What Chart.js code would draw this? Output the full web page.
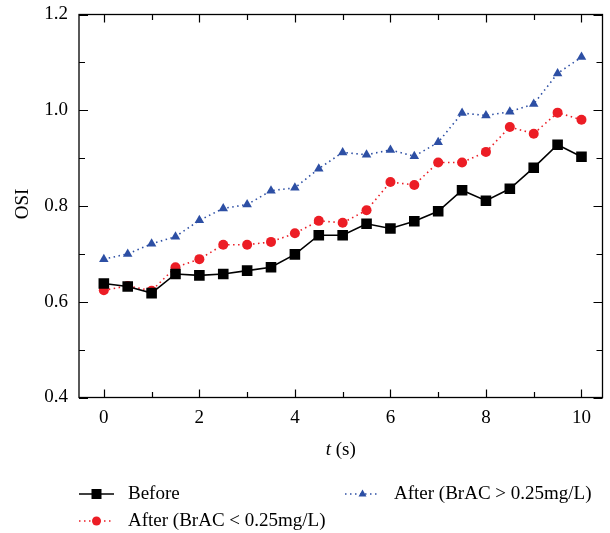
<!DOCTYPE html>
<html>
<head>
<meta charset="utf-8">
<script src="https://cdn.jsdelivr.net/npm/chart.js@4.4.0/dist/chart.umd.min.js"></script>
<style>
  html, body { margin: 0; padding: 0; background: #fff; }
  #wrap { width: 610px; height: 533px; }
</style>
</head>
<body>
<div id="wrap"><canvas id="osiChart" width="610" height="533"></canvas></div>
<script>
// time in seconds
var times = [0, 0.5, 1, 1.5, 2, 2.5, 3, 3.5, 4, 4.5, 5, 5.5, 6, 6.5, 7, 7.5, 8, 8.5, 9, 9.5, 10];
var before = [0.638, 0.632, 0.618, 0.658, 0.655, 0.658, 0.665, 0.672, 0.699, 0.739, 0.739,
              0.763, 0.753, 0.768, 0.789, 0.833, 0.811, 0.836, 0.880, 0.928, 0.903];
var afterLow = [0.624, 0.633, 0.623, 0.672, 0.689, 0.719, 0.719, 0.725, 0.743, 0.769, 0.765,
                0.791, 0.850, 0.844, 0.891, 0.891, 0.913, 0.965, 0.951, 0.995, 0.980];
var afterHigh = [0.689, 0.700, 0.721, 0.736, 0.770, 0.795, 0.803, 0.832, 0.838, 0.878, 0.912,
                 0.907, 0.917, 0.904, 0.933, 0.994, 0.989, 0.997, 1.013, 1.077, 1.111];
var seriesNames = ['Before', 'After (BrAC < 0.25mg/L)', 'After (BrAC > 0.25mg/L)'];
var xTickLabels = [0, 2, 4, 6, 8, 10];
var yTickLabels = [0.4, 0.6, 0.8, 1.0, 1.2];

var FONT = "'Liberation Serif', 'DejaVu Serif', serif";
var RED = '#ec1d25';
var BLUE = '#2d4fa4';

function pts(ys) {
  return ys.map(function (y, i) { return { x: times[i], y: y }; });
}

// frame, inward ticks, axis titles and the legend
var decor = {
  id: 'decor',
  afterDraw: function (chart) {
    var ctx = chart.ctx;
    var a = chart.chartArea;
    var xs = chart.scales.x, ys = chart.scales.y;
    ctx.save();
    ctx.strokeStyle = '#000';
    ctx.lineWidth = 1.3;
    ctx.strokeRect(a.left, a.top, a.right - a.left, a.bottom - a.top);

    ctx.beginPath();
    for (var t = 0; t <= 10; t++) {
      var px = Math.round(xs.getPixelForValue(t)) + 0.5;
      var len = (t % 2 === 0) ? 8 : 5.5;
      ctx.moveTo(px, a.bottom); ctx.lineTo(px, a.bottom - len);
      ctx.moveTo(px, a.top); ctx.lineTo(px, a.top + len);
    }
    for (var k = 4; k <= 12; k++) {
      var py = Math.round(ys.getPixelForValue(k / 10)) + 0.5;
      var l2 = (k % 2 === 0) ? 9 : 6;
      ctx.moveTo(a.left, py); ctx.lineTo(a.left + l2, py);
      ctx.moveTo(a.right, py); ctx.lineTo(a.right - l2, py);
    }
    ctx.lineWidth = 1.2;
    ctx.stroke();

    // x title: italic t + (s)
    ctx.fillStyle = '#000';
    ctx.textBaseline = 'middle';
    ctx.font = 'italic 19px ' + FONT;
    var w1 = ctx.measureText('t').width;
    ctx.font = '19px ' + FONT;
    var w2 = ctx.measureText(' (s)').width;
    var cx = (a.left + a.right) / 2 - (w1 + w2) / 2;
    ctx.font = 'italic 19px ' + FONT;
    ctx.fillText('t', cx, 450);
    ctx.font = '19px ' + FONT;
    ctx.fillText(' (s)', cx + w1, 450);

    // y title
    ctx.save();
    ctx.translate(23, 204);
    ctx.rotate(-Math.PI / 2);
    ctx.textAlign = 'center';
    ctx.fillText('OSI', 0, 0);
    ctx.restore();

    // legend
    var ds = chart.data.datasets;
    var items = [
      { d: ds[0], x: 79, y: 494 },
      { d: ds[1], x: 79, y: 521 },
      { d: ds[2], x: 345, y: 494 }
    ];
    items.forEach(function (it) {
      var d = it.d;
      ctx.save();
      ctx.strokeStyle = d.borderColor;
      ctx.lineWidth = d.borderWidth;
      ctx.setLineDash(d.borderDash || []);
      ctx.beginPath();
      ctx.moveTo(it.x, it.y); ctx.lineTo(it.x + 35, it.y);
      ctx.stroke();
      ctx.setLineDash([]);
      ctx.fillStyle = d.pointBackgroundColor;
      var mx = it.x + 17.5;
      ctx.beginPath();
      if (d.pointStyle === 'rect') {
        ctx.rect(mx - 5, it.y - 5, 10, 10);
      } else if (d.pointStyle === 'circle') {
        ctx.arc(mx, it.y, 4.5, 0, Math.PI * 2);
      } else {
        ctx.moveTo(mx, it.y - 4.5);
        ctx.lineTo(mx + 4, it.y + 2.5);
        ctx.lineTo(mx - 4, it.y + 2.5);
        ctx.closePath();
      }
      ctx.fill();
      ctx.fillStyle = '#000';
      ctx.font = '19px ' + FONT;
      ctx.textBaseline = 'middle';
      ctx.fillText(d.label, it.x + 49, it.y);
      ctx.restore();
    });
    ctx.restore();
  }
};

new Chart(document.getElementById('osiChart'), {
  type: 'line',
  data: {
    datasets: [
      {
        label: seriesNames[0],
        data: pts(before),
        borderColor: '#000',
        borderWidth: 1.6,
        pointStyle: 'rect',
        pointRadius: 7.5,
        pointBackgroundColor: '#000',
        pointBorderWidth: 0,
        order: 1
      },
      {
        label: seriesNames[1],
        data: pts(afterLow),
        borderColor: RED,
        borderWidth: 1.6,
        borderDash: [1.5, 3.5],
        pointStyle: 'circle',
        pointRadius: 5,
        pointBackgroundColor: RED,
        pointBorderWidth: 0,
        order: 2
      },
      {
        label: seriesNames[2],
        data: pts(afterHigh),
        borderColor: BLUE,
        borderWidth: 1.6,
        borderDash: [1.5, 3.5],
        pointStyle: 'triangle',
        pointRadius: 5.5,
        pointBackgroundColor: BLUE,
        pointBorderWidth: 0,
        order: 3
      }
    ]
  },
  options: {
    responsive: false,
    animation: false,
    layout: { padding: { left: 0, right: 5, top: 14.5, bottom: 0 } },
    plugins: { legend: { display: false }, tooltip: { enabled: false } },
    scales: {
      x: {
        type: 'linear',
        min: -0.52,
        max: 10.44,
        grid: { display: false, drawTicks: false },
        border: { display: false },
        ticks: {
          stepSize: 1,
          includeBounds: false,
          maxRotation: 0,
          autoSkip: false,
          padding: 9,
          color: '#000',
          font: { family: FONT, size: 19 },
          callback: function (v) {
            return xTickLabels.indexOf(v) >= 0 ? String(v) : '';
          }
        },
        afterFit: function (s) { s.height = 135.5; }
      },
      y: {
        type: 'linear',
        min: 0.4,
        max: 1.2,
        grid: { display: false, drawTicks: false },
        border: { display: false },
        ticks: {
          stepSize: 0.1,
          autoSkip: false,
          padding: 11,
          color: '#000',
          font: { family: FONT, size: 19 },
          callback: function (v) {
            var r = Math.round(v * 10) / 10;
            return yTickLabels.indexOf(r) >= 0 ? r.toFixed(1) : '';
          }
        },
        afterFit: function (s) {
          s.width = 79;
          // keep the top of the plot at the same height as the reference
          s.paddingTop = 0;
          s.paddingBottom = 0;
        }
      }
    }
  },
  plugins: [decor]
});
</script>
</body>
</html>
